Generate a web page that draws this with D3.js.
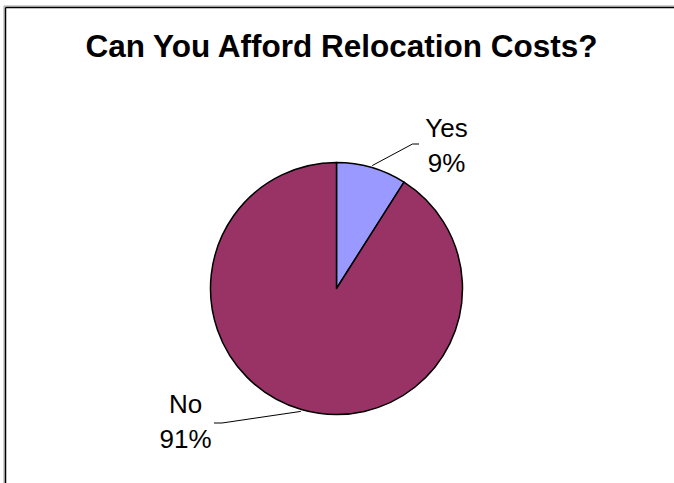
<!DOCTYPE html>
<html>
<head>
<meta charset="utf-8">
<script src="https://cdn.jsdelivr.net/npm/d3@7"></script>
<style>
  html, body { margin: 0; padding: 0; background: #fff; }
  svg { display: block; font-family: "Liberation Sans", Arial, sans-serif; }
</style>
</head>
<body>
<div id="chart"></div>
<script>
const title = 'Can You Afford Relocation Costs?'
const categories = ['Yes', 'No']
const values = [9, 91]
const colours = ['#9999ff', '#993366']

const width = 674
const height = 483
const cx = 336.5
const cy = 288.5
const radius = 126

// label placement (offsets from pie centre) and leader elbows
const labelPos = {
  Yes: { x: 110, y: -152, elbow: [[76, -144.5], [82.5, -144.5]] },
  No:  { x: -151, y: 124.5, elbow: [[-114.5, 134.5], [-122.5, 134.5]] }
}

const svg = d3.select('#chart').append('svg')
  .attr('width', width)
  .attr('height', height)

// frame: only left and top edges are visible in the picture
svg.append('line').attr('x1', 4).attr('y1', 6).attr('x2', 4).attr('y2', height)
  .attr('stroke', '#a0a0a0').attr('stroke-width', 1)
svg.append('line').attr('x1', 4).attr('y1', 6).attr('x2', width).attr('y2', 6)
  .attr('stroke', '#a0a0a0').attr('stroke-width', 1)
svg.append('line').attr('x1', 5.5).attr('y1', 7.5).attr('x2', 5.5).attr('y2', height)
  .attr('stroke', '#000').attr('stroke-width', 1.5)
svg.append('line').attr('x1', 5.5).attr('y1', 7.5).attr('x2', width).attr('y2', 7.5)
  .attr('stroke', '#000').attr('stroke-width', 1.5)

svg.append('text')
  .attr('x', 341.5)
  .attr('y', 57)
  .attr('text-anchor', 'middle')
  .style('font-size', '31.5px')
  .style('font-weight', 'bold')
  .text(title)

const pie = d3.pie().sort(null).value(d => d)
const arcs = pie(values)
const arc = d3.arc().innerRadius(0).outerRadius(radius)
const edgeArc = d3.arc().innerRadius(radius + 2).outerRadius(radius + 2)

const g = svg.append('g').attr('transform', `translate(${cx},${cy})`)

g.selectAll('.slice')
  .data(arcs)
  .join('path')
  .classed('slice', true)
  .attr('d', arc)
  .attr('fill', (d, i) => colours[i])
  .attr('stroke', '#000')
  .attr('stroke-width', 1.5)
  .attr('stroke-linejoin', 'round')

// leader lines
g.selectAll('.leader')
  .data(arcs)
  .join('polyline')
  .classed('leader', true)
  .attr('points', (d, i) => {
    const p = labelPos[categories[i]]
    return [edgeArc.centroid(d), ...p.elbow].map(q => q.join(',')).join(' ')
  })
  .attr('fill', 'none')
  .attr('stroke', '#000')
  .attr('stroke-width', 1)

// labels
const lbl = g.selectAll('.lbl')
  .data(arcs)
  .join('text')
  .classed('lbl', true)
  .attr('text-anchor', 'middle')
  .style('font-size', '26px')

lbl.append('tspan')
  .attr('x', (d, i) => labelPos[categories[i]].x)
  .attr('y', (d, i) => labelPos[categories[i]].y)
  .text((d, i) => categories[i])

lbl.append('tspan')
  .attr('x', (d, i) => labelPos[categories[i]].x)
  .attr('dy', 35)
  .text(d => Math.round(d.data / d3.sum(values) * 100) + '%')
</script>
</body>
</html>
